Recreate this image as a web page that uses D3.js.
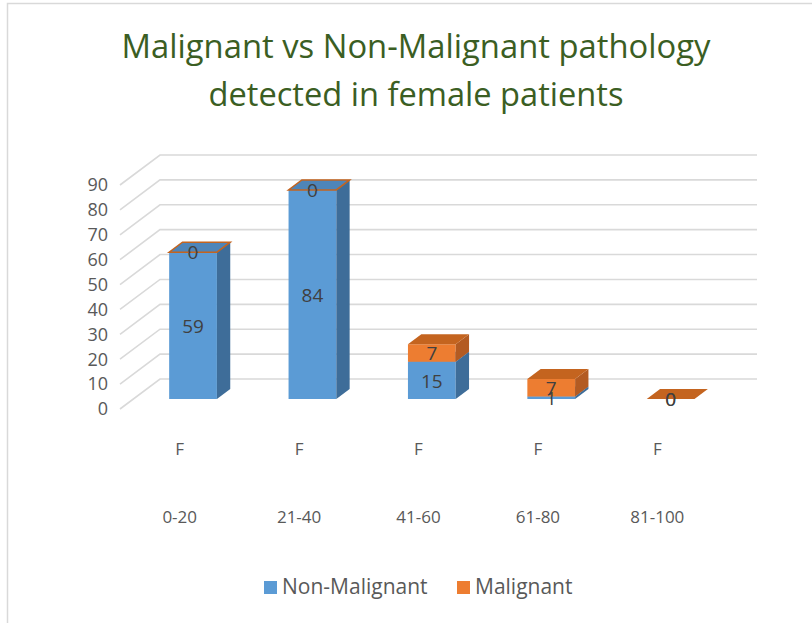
<!DOCTYPE html>
<html>
<head>
<meta charset="utf-8">
<script src="https://cdn.jsdelivr.net/npm/d3@7"></script>
<style>
  html, body { margin: 0; padding: 0; background: #fff; }
  svg { display: block; font-family: "Open Sans", sans-serif; }
</style>
</head>
<body>
<svg id="chart" width="812" height="623"></svg>
<script>
// ---- data ----
const ageGroups = ["0-20", "21-40", "41-60", "61-80", "81-100"];
const genderLabels = ["F", "F", "F", "F", "F"];
const nonMalignant = [59, 84, 15, 1, 0];
const malignant = [0, 0, 7, 7, 0];
const seriesNames = ["Non-Malignant", "Malignant"];
const yTicks = [0, 10, 20, 30, 40, 50, 60, 70, 80, 90];
const titleLines = ["Malignant vs Non-Malignant pathology", "detected in female patients"];

// ---- styles ----
const colors = {
  front: ["#5B9BD5", "#ED7D31"],
  side:  ["#3E6D99", "#B35B22"],
  top:   ["#4E85B9", "#C4641F"]
};
const DX = 40, DY = -30;          // full floor depth offset
const Z0 = 1/3, Z1 = 2/3;          // bar depth range

const svg = d3.select("#chart");

// frame
svg.append("rect").attr("x", 7.5).attr("y", 3.5).attr("width", 900).attr("height", 700)
  .attr("fill", "#fff").attr("stroke", "#D9D9D9").attr("stroke-width", 1.5);

// title
svg.append("g").selectAll("text").data(titleLines).join("text")
  .attr("x", 416).attr("y", (d, i) => 58 + i * 48)
  .attr("text-anchor", "middle")
  .attr("font-size", 32).attr("fill", "#3B5E23")
  .attr("textLength", (d, i) => i === 0 ? 589 : 415)
  .attr("lengthAdjust", "spacingAndGlyphs")
  .text(d => d);

// scales
const x = d3.scaleBand().domain(d3.range(ageGroups.length)).range([120, 717])
  .paddingInner(0.6).paddingOuter(0.3);
const y = d3.scaleLinear().domain([0, 90]).range([409, 185]);
const P = (px, v, z) => [px + z * DX, y(v) + z * DY];

// gridlines (back wall + left side wall diagonals)
const grid = svg.append("g").attr("stroke", "#D9D9D9").attr("stroke-width", 1.6).attr("fill", "none");
yTicks.forEach(t => {
  const a = P(120, t, 0), b = P(120, t, 1), c = P(717, t, 1);
  grid.append("path").attr("d", `M${a[0]},${a[1]}L${b[0]},${b[1]}L${c[0]},${c[1]}`);
});

// y axis labels
svg.append("g").selectAll("text").data(yTicks).join("text")
  .attr("x", 108).attr("y", d => y(d)).attr("dy", "0.35em")
  .attr("text-anchor", "end").attr("font-size", 18).attr("fill", "#595959")
  .text(d => d);

// bars
const bars = svg.append("g");
const poly = pts => "M" + pts.map(p => p.join(",")).join("L") + "Z";
const labels = [];
ageGroups.forEach((g, i) => {
  const x0 = x(i), x1 = x(i) + x.bandwidth();
  const vals = [nonMalignant[i], malignant[i]];
  let base = 0;
  const total = vals[0] + vals[1];
  vals.forEach((v, s) => {
    const lo = base, hi = base + v;
    if (v > 0) {
      bars.append("path").attr("fill", colors.front[s])
        .attr("d", poly([P(x0, lo, Z0), P(x1, lo, Z0), P(x1, hi, Z0), P(x0, hi, Z0)]));
      bars.append("path").attr("fill", colors.side[s])
        .attr("d", poly([P(x1, lo, Z0), P(x1, lo, Z1), P(x1, hi, Z1), P(x1, hi, Z0)]));
      bars.append("path").attr("fill", colors.top[s])
        .attr("d", poly([P(x0, hi, Z0), P(x1, hi, Z0), P(x1, hi, Z1), P(x0, hi, Z1)]));
    } else if (s === 1) {
      const topPts = poly([P(x0, hi, Z0), P(x1, hi, Z0), P(x1, hi, Z1), P(x0, hi, Z1)]);
      if (total === 0) {
        bars.append("path").attr("fill", colors.top[s]).attr("d", topPts);
      } else {
        bars.append("path").attr("fill", "none").attr("stroke", colors.top[s])
          .attr("stroke-width", 1.5).attr("d", topPts);
      }
    }
    const cx = (x0 + x1) / 2 + Z0 * DX;
    labels.push({ x: cx, y: (y(lo) + y(hi)) / 2 + Z0 * DY, v });
    base = hi;
  });
});

svg.append("g").selectAll("text").data(labels).join("text")
  .attr("x", d => d.x).attr("y", d => d.y).attr("dy", "0.38em")
  .attr("text-anchor", "middle").attr("font-size", 19).attr("fill", "#404040")
  .text(d => d.v);

// category labels
const cats = svg.append("g").attr("font-size", 17).attr("fill", "#595959").attr("text-anchor", "middle");
cats.selectAll("text.g").data(genderLabels).join("text").attr("class", "g")
  .attr("x", (d, i) => x(i) + x.bandwidth() / 2).attr("y", 455).text(d => d);
cats.selectAll("text.a").data(ageGroups).join("text").attr("class", "a")
  .attr("x", (d, i) => x(i) + x.bandwidth() / 2).attr("y", 523).text(d => d);

// legend
const legX = [264, 457];
const leg = svg.append("g").selectAll("g").data(seriesNames).join("g")
  .attr("transform", (d, i) => `translate(${legX[i]},581)`);
leg.append("rect").attr("width", 13).attr("height", 13).attr("fill", (d, i) => colors.front[i]);
leg.append("text").attr("x", 18).attr("y", 12.5).attr("font-size", 21).attr("fill", "#595959").text(d => d);
</script>
</body>
</html>
